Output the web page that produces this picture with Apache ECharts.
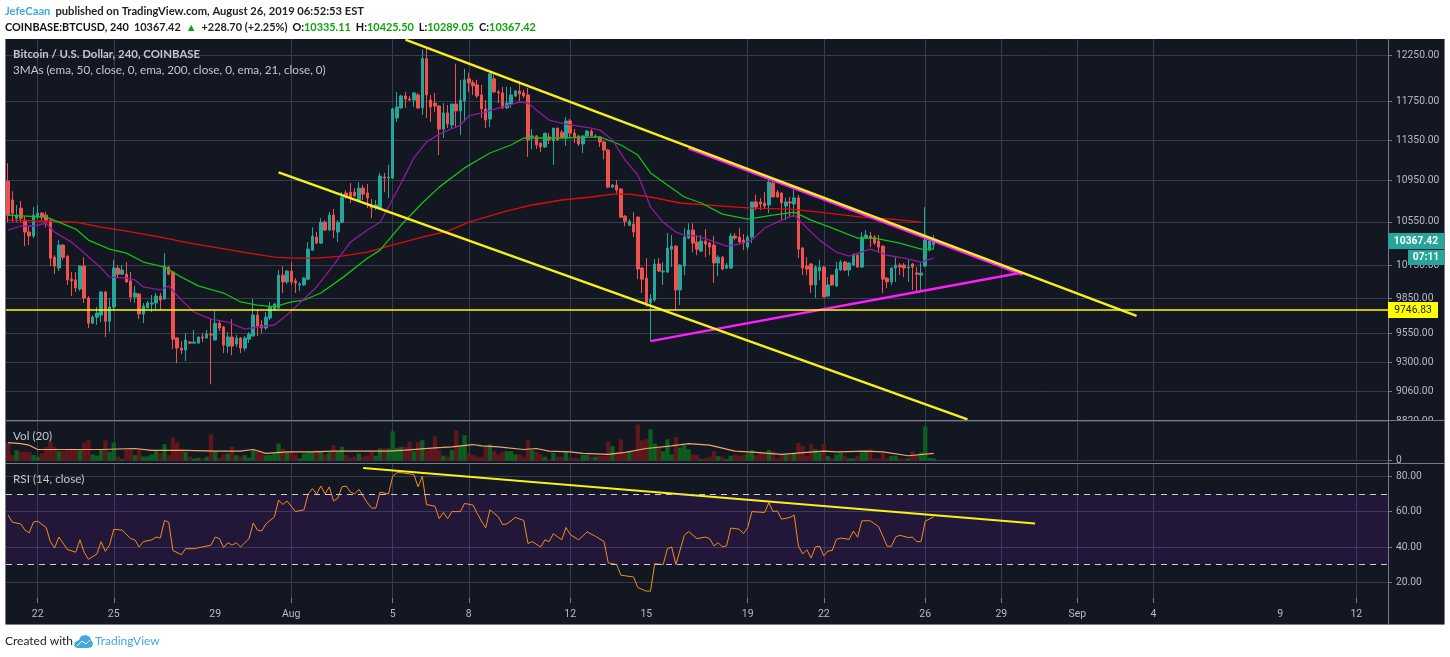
<!DOCTYPE html>
<html>
<head>
<meta charset="utf-8">
<style>html,body{margin:0;padding:0;background:#fff}#chart{width:1450px;height:657px}</style>
<script src="https://cdn.jsdelivr.net/npm/echarts@6/dist/echarts.min.js"></script>
</head>
<body>
<div id="chart"></div>
<script>
// 4h bars, first bar Jul 20 20:00
var opens = [10943,10759,10585,10681,10566,10454,10417,10595,10633,10614,
10566,10221,10122,10333,10230,10022,10015,9934,10140,9854,
9634,9686,9704,9907,9651,9775,10122,10067,10067,10006,
9862,9889,9713,9766,9801,9810,9871,9845,10131,10086,
9506,9421,9404,9472,9463,9463,9515,9506,9540,9489,
9634,9601,9438,9515,9455,9506,9421,9497,9523,9704,
9618,9592,9678,9748,9766,10058,9997,10095,10006,9970,
9970,10022,10286,10407,10351,10547,10473,10614,10454,10547,
10826,10835,10835,10759,10874,10826,10711,10691,10681,10983,
10973,10973,11580,11685,11811,11779,11768,11822,11685,12213,
11768,11736,11705,11465,11633,11507,11726,11654,11757,11994,
11951,11929,11822,11675,11570,11994,11854,11843,11685,11726,
11811,11864,11843,11822,11385,11395,11323,11283,11385,11344,
11476,11434,11374,11549,11424,11395,11313,11395,11445,11385,
11385,11333,11252,10884,10904,10865,10604,10518,10528,10595,
10122,10031,9810,9836,10159,10086,10086,10295,10323,9925,
10140,10398,10473,10360,10277,10370,10351,10333,10168,10221,
10122,10122,10417,10407,10379,10314,10407,10740,10740,10730,
10711,10923,10835,10826,10701,10740,10720,10779,10305,10140,
10159,9970,10095,10131,9871,10058,9961,10104,10177,10104,
10149,10239,10131,10398,10417,10407,10370,10323,10031,9997,
10122,10149,10149,10122,10159,10077,10058,10140,10286,10335];
var closes = [10614,10633,10614,10585,10454,10417,10614,10633,10595,10566,
10212,10140,10333,10221,10015,10006,9943,10140,9854,9634,
9686,9722,9907,9651,9775,10122,10067,10104,9997,9862,
9898,9713,9783,9810,9810,9871,9836,10140,10067,9497,
9421,9404,9489,9463,9472,9515,9506,9540,9532,9634,
9592,9446,9515,9438,9506,9421,9506,9540,9704,9609,
9592,9686,9775,9801,10058,9997,10095,9997,9988,9979,
10031,10295,10417,10351,10547,10473,10614,10473,10547,10786,
10788,10779,10798,10874,10816,10779,10681,10711,10993,10973,
10983,11675,11694,11811,11779,11768,11843,11685,12213,11822,
11694,11705,11465,11633,11517,11726,11654,11768,11983,11951,
11919,11811,11675,11559,12048,11854,11843,11685,11736,11822,
11864,11832,11811,11354,11395,11303,11283,11424,11354,11476,
11354,11374,11549,11424,11385,11313,11395,11445,11395,11395,
11333,11252,10884,10904,10855,10595,10556,10556,10454,10113,
10022,9810,9845,10159,10095,10095,10305,10323,9925,10149,
10407,10473,10351,10295,10370,10342,10314,10168,10221,10113,
10149,10417,10398,10360,10351,10407,10740,10691,10720,10701,
10933,10788,10788,10730,10740,10730,10779,10295,10122,10113,
9970,10131,10131,9862,9970,9970,10113,10177,10104,10168,
10239,10131,10407,10426,10398,10351,10314,10022,9997,10122,
10149,10131,10122,10131,10131,10067,10077,10379,10370,10367];
var lows = [10547,10547,10547,10547,10323,10333,10398,10576,10566,10499,
10140,10067,10095,10195,9970,9871,9907,9916,9810,9592,
9626,9618,9643,9515,9558,9748,10040,10058,9988,9819,
9810,9669,9635,9766,9730,9748,9748,9836,10058,9412,
9295,9370,9312,9463,9463,9463,9472,9506,9120,9489,
9566,9378,9378,9361,9429,9378,9395,9463,9523,9523,
9549,9575,9660,9748,9757,9898,9979,9970,9898,9916,
9961,10015,10277,10342,10342,10463,10463,10398,10360,10537,
10769,10730,10788,10749,10759,10681,10585,10662,10672,10835,
10779,10963,11538,11675,11685,11757,11696,11675,11612,11580,
11538,11643,11202,11374,11476,11476,11486,11405,11538,11854,
11822,11790,11580,11476,11486,11843,11736,11675,11675,11685,
11800,11757,11790,11183,11262,11262,11232,11272,11313,11103,
11344,11364,11293,11385,11323,11293,11222,11385,11385,11374,
11283,11160,10874,10874,10826,10585,10509,10509,10407,10022,
9898,9775,9480,9819,10086,9970,10077,10131,9748,9792,
10058,10388,10267,10239,10267,10221,10239,9988,10049,10104,
10113,10113,10379,10351,10286,10286,10351,10662,10662,10681,
10633,10788,10779,10566,10566,10595,10595,10212,10058,10058,
9898,9854,10015,9862,9862,9961,9952,10095,10095,10049,
10140,10122,10122,10388,10314,10333,10267,9898,9943,9970,
9997,10058,10040,9997,9925,9907,9907,10131,10277,10289];
var highs = [11120,10845,10711,10749,10604,10509,10691,10711,10643,10643,
10585,10239,10379,10342,10239,10086,10086,10149,10221,9871,
9704,9775,9916,9916,9854,10195,10149,10149,10177,10086,
9961,9898,9810,9828,9880,9898,9898,10258,10140,10095,
9515,9480,9549,9480,9575,9523,9549,9575,9669,9739,
9660,9609,9558,9669,9532,9515,9523,9558,9845,9748,
9660,9730,9819,9810,10104,10140,10104,10177,10031,9997,
10040,10360,10499,10454,10585,10566,10643,10672,10566,10835,
10855,10923,10874,10933,10904,10914,10769,10759,11023,11023,
11103,11685,11854,11822,11854,11811,11854,11843,12313,12324,
11822,11843,11716,11736,11716,11726,12158,11983,12103,12059,
11983,11983,11929,11768,12059,12037,11875,11908,11908,11908,
11875,11972,11875,11897,11465,11403,11323,11424,11424,11476,
11476,11455,11591,11570,11465,11403,11403,11455,11465,11414,
11395,11344,11262,10914,10953,10874,10614,10576,10643,10604,
10131,10212,9889,10204,10212,10177,10445,10426,10333,10159,
10490,10537,10537,10426,10426,10482,10360,10417,10239,10230,
10168,10445,10445,10490,10435,10426,10740,10808,10779,10835,
10953,10953,10855,10835,10779,10788,10855,10808,10314,10221,
10168,10149,10195,10140,10040,10058,10177,10195,10186,10177,
10258,10249,10454,10473,10454,10426,10426,10333,10040,10131,
10221,10168,10168,10195,10168,10131,10168,10691,10379,10425];
var volumes = [1815,561,1056,891,891,891,561,396,726,1386,
1881,1386,957,957,1056,1221,1056,1056,1815,2046,
627,495,1056,2046,891,1815,396,165,1122,1122,
561,1221,429,429,627,957,726,1650,561,2310,
1815,1221,891,396,231,297,231,396,2640,891,
297,627,726,1386,561,396,561,297,1056,891,
726,561,561,726,1716,1221,891,957,627,231,
726,825,891,1056,891,627,825,1551,891,1386,
561,297,396,726,396,495,891,495,1221,1221,
1221,2937,1287,1386,1386,1881,957,1881,2046,1056,
1221,2442,1056,495,396,1056,3036,1551,2541,726,
561,396,396,1386,1617,957,627,891,957,957,
627,627,396,2046,1056,891,627,396,165,792,
396,396,891,297,297,231,561,561,396,396,
495,495,1947,1452,726,2145,726,891,957,3630,
2046,2145,3135,1716,1386,957,2145,627,2376,1320,
1551,1155,627,561,165,231,396,957,462,396,
165,495,627,495,561,726,1056,561,792,726,
1056,957,231,561,627,561,726,1782,1485,495,
1650,1155,825,1650,462,231,627,792,495,231,
231,495,825,891,1155,231,231,825,231,495,
495,231,165,231,957,627,825,3432,297,231];

// moving averages read at these bars
var volMaBars = [0,3,5,7,14,22,30,34,42,49,55,58,61,66,72,77,83,90,94,101,105,110,112,116,122,125,128,133,136,142,146,151,157,161,166,172,177,183,189,193,196,203,207,213,219];
var volMa = [1815,1716,1551,1122,1122,1122,1221,1023,1023,957,957,1122,726,891,891,957,957,957,1056,1287,1386,1617,1485,1386,1122,1221,957,891,726,627,825,1221,1485,1716,1551,957,825,627,825,957,891,957,891,495,726];
var ema21Bars = [0,3,6,9,11,15,17,22,24,28,30,32,36,38,41,44,48,52,56,59,63,66,69,73,77,81,85,88,90,93,96,99,102,107,109,113,117,121,123,125,128,132,138,140,143,146,149,150,152,155,158,160,163,166,170,173,176,179,183,186,189,192,196,199,204,208,212,216,219];
var ema21 = [10473,10511,10511,10537,10454,10360,10295,10122,10040,10031,10015,9952,9925,9961,9836,9730,9669,9643,9583,9601,9618,9704,9810,9952,10149,10360,10473,10547,10691,10923,11173,11333,11414,11507,11601,11643,11696,11747,11736,11664,11559,11517,11476,11455,11354,11150,11003,10904,10691,10547,10454,10426,10417,10379,10323,10342,10379,10492,10566,10614,10492,10379,10267,10230,10295,10239,10212,10177,10212];
var ema50Bars = [0,9,12,16,19,24,28,32,37,41,45,51,55,59,63,67,70,74,79,85,88,90,93,98,102,108,114,119,122,131,140,145,149,152,156,160,164,169,175,181,186,190,195,201,205,211,216,219];
var ema50 = [10614,10595,10547,10482,10379,10295,10258,10177,10131,10040,9961,9898,9819,9792,9775,9819,9836,9898,10031,10212,10286,10379,10520,10730,10884,11073,11222,11303,11374,11374,11385,11303,11202,11023,10904,10788,10730,10623,10576,10614,10643,10566,10492,10398,10398,10351,10295,10295];
var ema200Bars = [0,9,16,22,28,36,43,50,57,63,68,73,79,85,90,98,104,109,117,124,131,138,143,147,152,159,169,176,185,192,202,209,216];
var ema200 = [10566,10556,10547,10501,10463,10407,10351,10305,10258,10221,10212,10212,10230,10267,10323,10407,10463,10547,10643,10711,10759,10788,10816,10816,10788,10730,10701,10681,10672,10643,10595,10576,10547];

var rsiBars = [0,1,3,4,5,6,7,9,10,11,12,14,16,17,18,19,21,22,23,24,25,27,29,30,31,32,34,35,36,37,38,39,41,42,44,48,49,50,51,52,53,54,55,57,58,59,60,61,63,64,65,66,68,70,71,72,73,74,75,76,77,78,79,80,81,82,83,85,86,87,88,90,91,92,93,96,97,98,99,101,102,103,104,105,107,108,110,111,112,113,114,116,117,118,120,122,123,124,126,127,128,129,131,132,133,135,137,139,141,142,144,145,148,149,151,152,153,155,156,157,158,160,161,163,165,166,167,168,169,170,171,173,174,175,176,179,180,181,182,183,185,186,187,188,189,190,191,192,193,194,195,196,197,199,200,201,202,204,206,208,209,210,211,213,214,215,216,217,219];
var rsi = [58,54,53,49.5,48,54,54.6,51,43,39.4,45.6,38.6,37,44,37,33,36,43,37.5,41,50,49.5,44.7,44,40,43,44,45.6,45,55,54,38,35.6,39,39,41,45.6,44.7,39.6,42.4,41,42.4,40,44.7,53.6,49.5,49,53,57,66.5,64,66,60,61,70,73,70,74.5,70,74,66,67.5,74,74.5,71,70,72.6,65,62,62,71,70,80,82,82,81,74,80,64,63,56,59.5,56,60,60,64.6,63.7,59,54.6,50.8,61,57,52.7,53,56.7,55,42,43,40,44,43,47.5,44,51,47,44,48.5,46,43,31,30,24,23,17,15,15,30.5,30,39,40,30,46.6,48.7,44.7,45.6,44.7,40.6,42.4,40,40.6,50.7,50,47.5,51,60,59.5,65,60,60.4,55.7,56.7,58,40.6,36,38.4,33.7,40,40.4,35,37.7,38,44.3,45,44.3,49,45.5,54.8,54.8,51.4,40.4,40.4,45.6,46.6,45.3,45.6,43,43,54.6,57];

// drawn lines, as [bar, value] ends
var upperChannel = [[94, 12423], [267, 9697]];
var lowerChannel = [[64, 11029], [227, 8838]];
var wedgeTop = [[161, 11272], [240, 10065]];
var wedgeBottom = [[152, 9480], [240, 10082]];
var rsiTrend = [[84, 84.7], [243, 53.2]];
var supportLevel = 9746.83;
var lastPrice = 10367.42;

var priceTicks = [12250, 11750, 11350, 10950, 10550, 10150, 9850, 9550, 9300, 9060, 8820];
var rsiTicks = [80, 60, 40, 20];
var tickBars = [7, 25, 49, 67, 91, 109, 133, 151, 175, 193, 217, 235, 253, 271, 301, 319];
var tickTexts = ['22', '25', '29', 'Aug', '5', '8', '12', '15', '19', '22', '26', '29', 'Sep', '4', '9', '12'];
var unruledBars = [49, 151, 301]; // labelled but no gridline

var BAR_COUNT = 327;
var categories = [];
for (var i = 0; i < BAR_COUNT; i++) {
  categories.push(new Date(Date.UTC(2019, 6, 20, 20) + i * 4 * 3600000).toISOString());
}

var BG = '#131722', GRID = '#363c4e', FRAME = '#787b86', LABEL = '#b7bac2';
var UP = '#26a69a', DOWN = '#ef5350';
var FONT = 'Roboto';

function pairs(bars, values, fn) {
  return bars.map(function (b, k) { return [b, fn ? fn(values[k]) : values[k]]; });
}
function logEnds(line) {
  return line.map(function (p) { return [p[0], Math.log(p[1])]; });
}
function isRuled(idx) {
  return tickBars.indexOf(idx) >= 0 && unruledBars.indexOf(idx) < 0;
}
function xAxisFor(gridIndex, withLabels) {
  return {
    type: 'category', gridIndex: gridIndex, data: categories, boundaryGap: true,
    axisLine: { show: false },
    axisTick: { show: withLabels, length: 5, alignWithLabel: true, interval: function (idx) { return isRuled(idx); }, lineStyle: { color: FRAME } },
    splitLine: { show: true, alignWithLabel: true, interval: function (idx) { return isRuled(idx); }, lineStyle: { color: GRID, width: 1 } },
    axisLabel: {
      show: withLabels, color: LABEL, fontFamily: FONT, fontSize: 10.5, margin: 11, hideOverlap: false,
      interval: function (idx) { return tickBars.indexOf(idx) >= 0; },
      formatter: function (v) { return tickTexts[tickBars.indexOf(categories.indexOf(v))]; }
    }
  };
}
function lineSeries(name, x, y, data, color, width) {
  return {
    name: name, type: 'line', xAxisIndex: x, yAxisIndex: y, data: data, showSymbol: false, symbol: 'none',
    silent: true, animation: false, lineStyle: { color: color, width: width }, z: 3
  };
}
function tag(x, y, w, h, fill, text, color, bold) {
  return [
    { type: 'rect', z: 20, shape: { x: x, y: y, width: w, height: h }, style: { fill: fill } },
    { type: 'text', z: 21, x: x + w / 2, y: y + h / 2, style: { text: text, fill: color, font: (bold ? 'bold ' : '') + '10.3px ' + FONT, align: 'center', verticalAlign: 'middle' } }
  ];
}
function paneText(x, y, text, weight, size) {
  return { type: 'text', z: 21, x: x, y: y, style: { text: text, fill: '#c3c6ce', font: (weight || '') + ' ' + size + 'px Lato', verticalAlign: 'middle' } };
}
function frameLine(x1, y1, x2, y2) {
  return { type: 'line', z: 19, shape: { x1: x1, y1: y1, x2: x2, y2: y2 }, style: { stroke: FRAME, lineWidth: 1 } };
}

var chart = echarts.init(document.getElementById('chart'), null, { renderer: 'canvas' });
chart.setOption({
  animation: false,
  backgroundColor: '#ffffff',
  title: [
    {
      left: 5, top: 2, padding: 0,
      text: '{u|JefeCaan} {t|published on TradingView.com, August 26, 2019 06:52:53 EST}',
      textStyle: { rich: {
        u: { fontFamily: 'Lato', fontSize: 11.2, color: '#3fa9e0', fontWeight: 'bold' },
        t: { fontFamily: 'Lato', fontSize: 11.2, color: '#222222' }
      } }
    },
    {
      left: 5, top: 18.5, padding: 0,
      text: '{b|COINBASE:BTCUSD, 240} {t|10367.42} {g|▲} {t|+228.70 (+2.25%)} {b|O:}{g|10335.11} {b|H:}{g|10425.50} {b|L:}{g|10289.05} {b|C:}{g|10367.42}',
      textStyle: { rich: {
        b: { fontFamily: 'Lato', fontSize: 10.9, color: '#111111', fontWeight: 'bold' },
        t: { fontFamily: 'Lato', fontSize: 10.9, color: '#222222' },
        g: { fontFamily: 'Lato', fontSize: 10.9, color: '#0da30d' }
      } }
    }
  ],
  grid: [
    { left: 6, width: 1382, top: 39, height: 384 },
    { left: 6, width: 1382, top: 421, height: 39.7 },
    { left: 6, width: 1382, top: 463, height: 135 }
  ],
  xAxis: [xAxisFor(0, false), xAxisFor(1, false), xAxisFor(2, true)],
  yAxis: [
    {
      gridIndex: 0, type: 'value', position: 'right', scale: true, z: 0,
      min: Math.log(8809), max: Math.log(12430),
      axisLine: { show: true, lineStyle: { color: FRAME } },
      axisTick: { show: true, length: 4, customValues: priceTicks.map(Math.log), lineStyle: { color: FRAME } },
      splitLine: { show: true, lineStyle: { color: GRID, width: 1 } },
      axisLabel: {
        customValues: priceTicks.map(Math.log), color: LABEL, fontFamily: FONT, fontSize: 10.3, margin: 8,
        formatter: function (v) { return Math.exp(v).toFixed(2); }
      }
    },
    {
      gridIndex: 1, type: 'value', position: 'right', min: 0, max: 3970, z: 0,
      axisLine: { show: true, lineStyle: { color: FRAME } },
      axisTick: { show: true, length: 4, customValues: [0], lineStyle: { color: FRAME } },
      splitLine: { show: true, lineStyle: { color: GRID, width: 1 } },
      axisLabel: { customValues: [0], color: LABEL, fontFamily: FONT, fontSize: 10.3, margin: 8 }
    },
    {
      gridIndex: 2, type: 'value', position: 'right', min: 11.1, max: 87.5, z: 0,
      axisLine: { show: true, lineStyle: { color: FRAME } },
      axisTick: { show: true, length: 4, customValues: rsiTicks, lineStyle: { color: FRAME } },
      splitLine: { show: true, lineStyle: { color: GRID, width: 1 } },
      axisLabel: {
        customValues: rsiTicks, color: LABEL, fontFamily: FONT, fontSize: 10.3, margin: 8,
        formatter: function (v) { return v.toFixed(2); }
      }
    }
  ],
  series: [
    {
      name: 'BTCUSD', type: 'candlestick', xAxisIndex: 0, yAxisIndex: 0, barWidth: 3, silent: true,
      data: opens.map(function (o, k) { return [o, closes[k], lows[k], highs[k]].map(Math.log); }),
      itemStyle: { color: UP, color0: DOWN, borderColor: UP, borderColor0: DOWN, borderWidth: 1 }
    },
    lineSeries('EMA 200', 0, 0, pairs(ema200Bars, ema200, Math.log), '#e00b0b', 1.3),
    lineSeries('EMA 50', 0, 0, pairs(ema50Bars, ema50, Math.log), '#12c212', 1.3),
    lineSeries('EMA 21', 0, 0, pairs(ema21Bars, ema21, Math.log), '#8f1a9c', 1.3),
    lineSeries('Wedge top', 0, 0, logEnds(wedgeTop), '#ff1eff', 3),
    lineSeries('Wedge bottom', 0, 0, logEnds(wedgeBottom), '#ff1eff', 2.5),
    lineSeries('Upper channel', 0, 0, logEnds(upperChannel), '#f7f01a', 2.5),
    lineSeries('Lower channel', 0, 0, logEnds(lowerChannel), '#f7f01a', 2.5),
    {
      name: 'Support', type: 'line', xAxisIndex: 0, yAxisIndex: 0, data: [], silent: true, z: 3,
      markLine: {
        silent: true, symbol: 'none', animation: false, precision: 8, label: { show: false },
        lineStyle: { color: '#ffff00', width: 1.5, type: 'solid' },
        data: [{ yAxis: Math.log(supportLevel) }]
      }
    },
    {
      name: 'Volume', type: 'bar', xAxisIndex: 1, yAxisIndex: 1, barCategoryGap: '0%', barWidth: 4.3, silent: true,
      data: volumes,
      itemStyle: { color: function (p) { return closes[p.dataIndex] >= opens[p.dataIndex] ? '#0c5e1e' : '#5e171c'; } }
    },
    lineSeries('Volume MA', 1, 1, pairs(volMaBars, volMa), '#f3a56b', 1.2),
    {
      name: 'RSI', type: 'line', xAxisIndex: 2, yAxisIndex: 2, data: pairs(rsiBars, rsi), showSymbol: false, symbol: 'none',
      silent: true, z: 3, lineStyle: { color: '#ee8f1c', width: 1 },
      markArea: { silent: true, animation: false, itemStyle: { color: 'rgba(119,30,194,0.15)' }, data: [[{ yAxis: 70 }, { yAxis: 30 }]] },
      markLine: {
        silent: true, symbol: 'none', animation: false, label: { show: false },
        lineStyle: { color: '#c9c9cf', width: 1, type: [6, 5] },
        data: [{ yAxis: 70 }, { yAxis: 30 }]
      }
    },
    lineSeries('RSI trend', 2, 2, rsiTrend, '#f7f01a', 2)
  ],
  graphic: { elements: [
    { type: 'rect', z: -10, silent: true, shape: { x: 6, y: 39, width: 1438, height: 585 }, style: { fill: BG } },
    // clipped scale labels at the pane edges
    { type: 'rect', z: 1, silent: true, shape: { x: 1389, y: 420.5, width: 54, height: 30 }, style: { fill: BG } },
    { type: 'rect', z: 1, silent: true, shape: { x: 1389, y: 463.5, width: 54, height: 7 }, style: { fill: BG } },
    frameLine(5.5, 39, 5.5, 624),
    frameLine(5.5, 624.5, 1444.5, 624.5),
    frameLine(1444.5, 39, 1444.5, 624),
    frameLine(1388.5, 39, 1388.5, 624),
    frameLine(6, 420.5, 1444, 420.5),
    frameLine(6, 463.5, 1444, 463.5),
    paneText(13, 54, 'Bitcoin / U.S. Dollar, 240, COINBASE', 'bold', 11.4),
    paneText(13, 70, '3MAs (ema, 50, close, 0, ema, 200, close, 0, ema, 21, close, 0)', '', 11.7),
    paneText(13, 436, 'Vol (20)', '', 11.7),
    paneText(13, 479, 'RSI (14, close)', '', 11.7),
    { type: 'text', z: 21, x: 5, y: 641, style: { text: 'Created with', fill: '#222222', font: '12px Lato', verticalAlign: 'middle' } },
    { type: 'text', z: 21, x: 95, y: 641, style: { text: 'TradingView', fill: '#3fa9e0', font: '12px Lato', verticalAlign: 'middle' } },
    {
      // logo cloud
      type: 'polygon', z: 21, silent: true,
      shape: { points: [[74, 646], [75, 642], [79, 640], [81, 636], [86, 635], [90, 637], [91, 640], [93, 643], [92, 647], [88, 648], [77, 648]] },
      style: { fill: '#3fa9e0' }
    },
    {
      type: 'polyline', z: 22, silent: true,
      shape: { points: [[77, 646], [82, 641], [86, 644], [90, 640]] },
      style: { stroke: '#ffffff', fill: null, lineWidth: 1 }
    }
  ].concat(
    tag(1388, 233, 56, 16, UP, lastPrice.toFixed(2), '#ffffff', true),
    tag(1408, 250, 36, 15, UP, '07:11', '#ffffff', true),
    tag(1388, 302, 50, 16, '#ffff00', supportLevel.toFixed(2), '#222222', false)
  ) }
});
</script>
</body>
</html>
